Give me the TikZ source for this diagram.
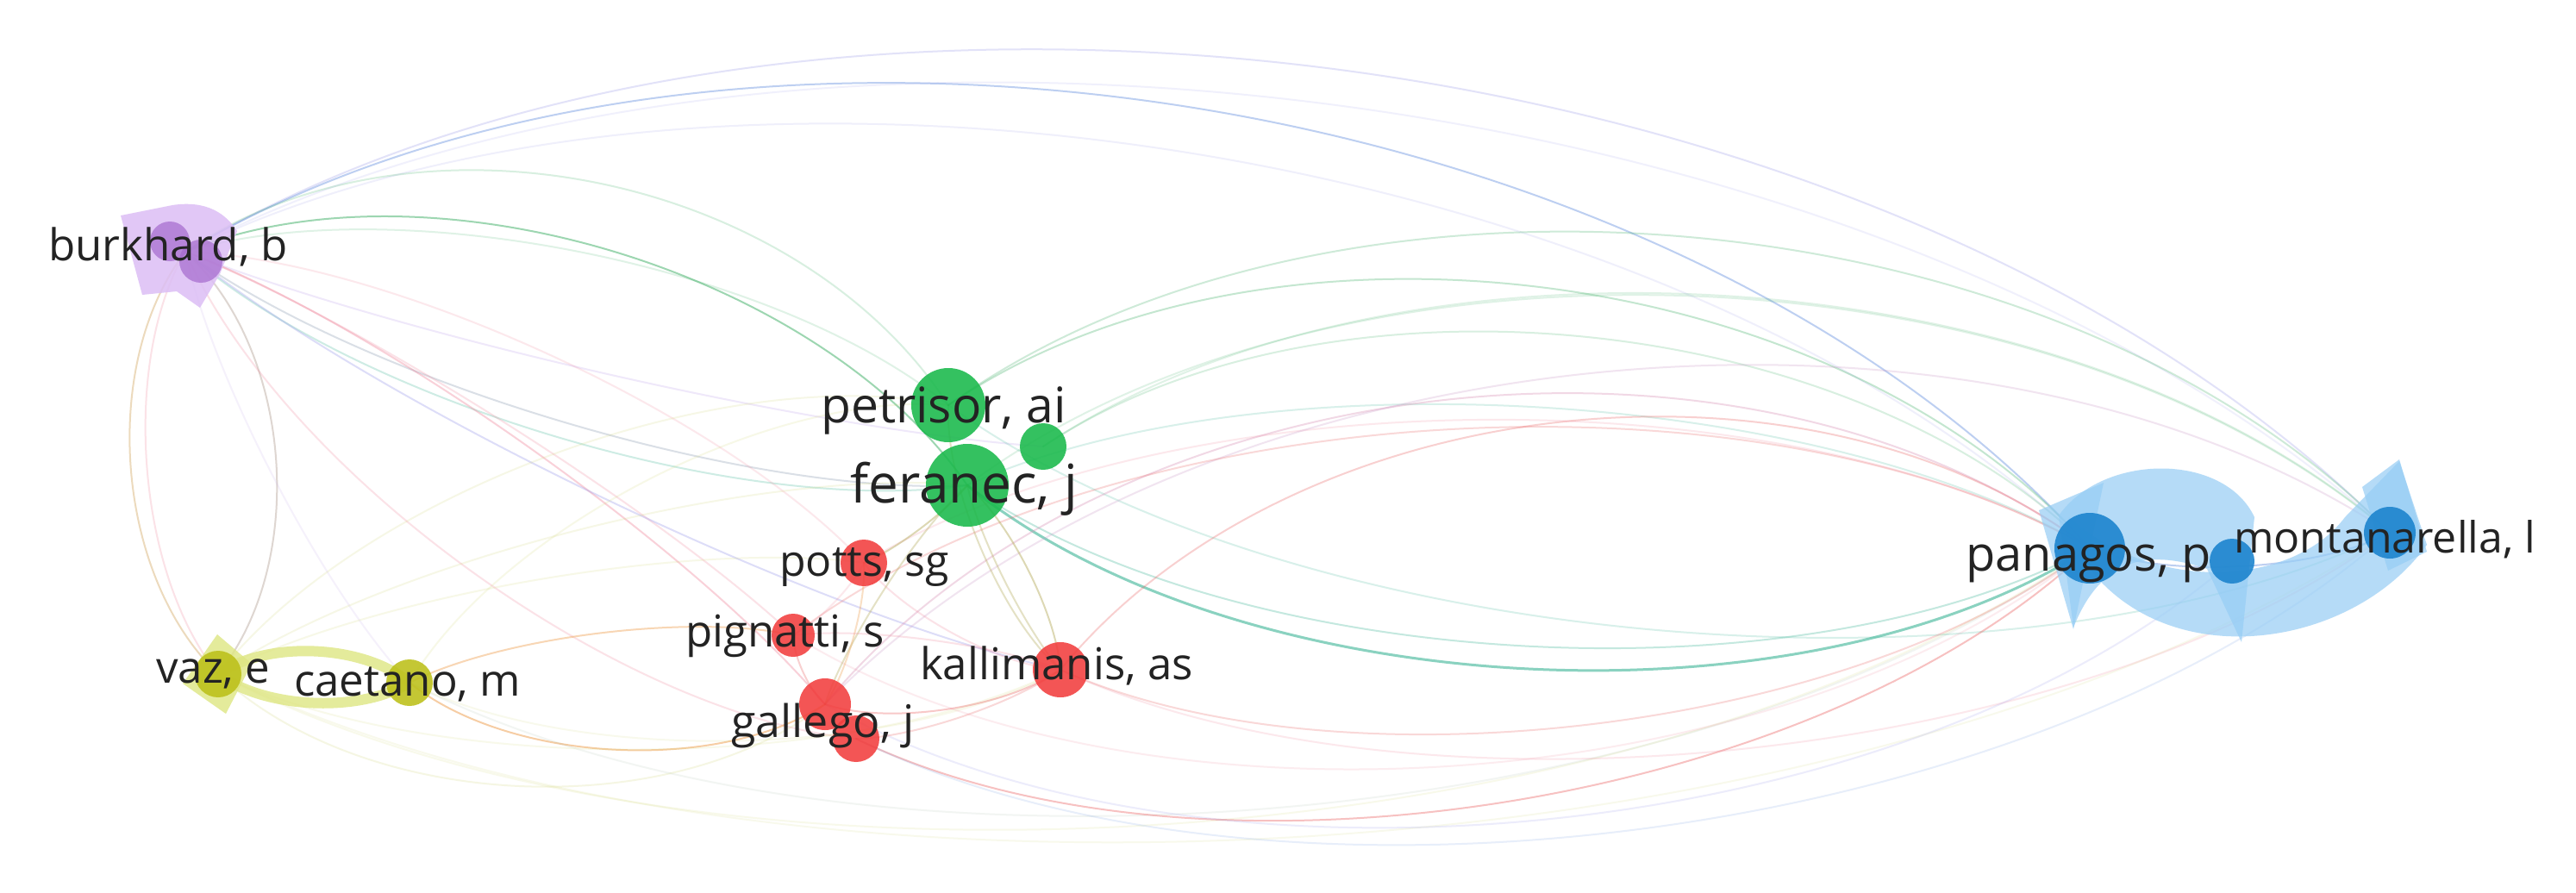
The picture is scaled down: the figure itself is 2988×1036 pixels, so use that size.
\documentclass[tikz,border=0pt]{standalone}
\usepackage{fontspec}
\setmainfont{Open Sans}
\usetikzlibrary{calc}
\definecolor{cPurp}{RGB}{175,140,230}
\definecolor{cLav}{RGB}{160,160,235}
\definecolor{cBlueE}{RGB}{110,150,225}
\definecolor{cGreenE}{RGB}{60,175,100}
\definecolor{cTeal}{RGB}{60,180,150}
\definecolor{cPink}{RGB}{240,140,160}
\definecolor{cRedE}{RGB}{235,100,100}
\definecolor{cOrange}{RGB}{240,165,90}
\definecolor{cYelE}{RGB}{205,210,100}
\definecolor{cOlive}{RGB}{180,170,90}
\definecolor{cGray}{RGB}{150,165,185}
\definecolor{nPurp}{RGB}{165,105,205}
\definecolor{sPurp}{RGB}{220,190,245}
\definecolor{nGreen}{RGB}{25,185,75}
\definecolor{nRed}{RGB}{242,62,62}
\definecolor{nYel}{RGB}{188,192,25}
\definecolor{sYel}{RGB}{222,230,130}
\definecolor{nBlue}{RGB}{25,130,205}
\definecolor{sBlue}{RGB}{150,205,245}
\definecolor{txt}{RGB}{35,35,35}
\newcommand\arcedge[4]{\draw[#1] (#2) .. controls ($(#2)!0.25!(#3)!#4pt!90:(#3)$) and ($(#3)!0.25!(#2)!#4pt!-90:(#2)$) .. (#3);}
\tikzset{
  edge/.style={line width=2pt, line cap=round},
  loopband/.style={line width=12pt, draw=sYel, opacity=.8},
  dot/.style={circle, inner sep=0pt, minimum size=#1, opacity=.88},
  lbl/.style={anchor=base west, text=txt, inner sep=0pt}
}
\begin{document}
\begin{tikzpicture}[x=1pt,y=-1pt]
\fill[white] (0,0) rectangle (2988,1036);
\useasboundingbox (0,0) rectangle (2988,1036);
% centres
\coordinate (bur) at (215,292);
\coordinate (pet) at (1100,470);
\coordinate (fer) at (1122,563);
\coordinate (gsm) at (1210,518);
\coordinate (pot) at (1002,653);
\coordinate (pig) at (920,737);
\coordinate (kal) at (1230,777);
\coordinate (gal) at (957,817);
\coordinate (gaa) at (993,857);
\coordinate (vaz) at (253,782);
\coordinate (cae) at (475,792);
\coordinate (pan) at (2424,636);
\coordinate (pmid) at (2589,651);
\coordinate (mon) at (2772,618);
% edges from burkhard
\arcedge{edge, draw=cLav, opacity=.3}{bur}{mon}{505}
\arcedge{edge, draw=cLav, opacity=.15}{bur}{mon}{450}
\arcedge{edge, draw=cBlueE, opacity=.45}{bur}{pan}{460}
\arcedge{edge, draw=cLav, opacity=.16}{bur}{pan}{390}
\arcedge{edge, draw=cGreenE, opacity=.5}{bur}{fer}{190}
\arcedge{edge, draw=cGreenE, opacity=.2}{bur}{pet}{230}
\arcedge{edge, draw=cGreenE, opacity=.16}{bur}{pet}{120}
\arcedge{edge, draw=cGray, opacity=.35}{bur}{fer}{-85}
\arcedge{edge, draw=cTeal, opacity=.25}{bur}{fer}{-110}
\arcedge{edge, draw=cPurp, opacity=.2}{bur}{gsm}{-40}
\arcedge{edge, draw=cYelE!60!cPink, opacity=.5}{bur}{vaz}{-110}
\arcedge{edge, draw=cPurp!50!cYelE, opacity=.5}{bur}{vaz}{115}
\arcedge{edge, draw=cPink, opacity=.25}{bur}{vaz}{-85}
\arcedge{edge, draw=cPink, opacity=.4}{bur}{gal}{60}
\arcedge{edge, draw=cPink, opacity=.25}{bur}{pig}{40}
\arcedge{edge, draw=cPink, opacity=.2}{bur}{pot}{90}
\arcedge{edge, draw=cLav, opacity=.35}{bur}{kal}{-65}
\arcedge{edge, draw=cPink, opacity=.25}{bur}{gaa}{-140}
\arcedge{edge, draw=cPurp, opacity=.12}{bur}{cae}{-40}
% vaz / caetano
\arcedge{edge, draw=cOrange, opacity=.55}{cae}{gal}{-87}
\arcedge{edge, draw=cOrange, opacity=.45}{cae}{pig}{40}
\arcedge{edge, draw=cYelE, opacity=.18}{vaz}{gal}{-150}
\arcedge{edge, draw=cYelE, opacity=.16}{vaz}{pet}{140}
\arcedge{edge, draw=cYelE, opacity=.16}{vaz}{fer}{80}
\arcedge{edge, draw=cYelE, opacity=.15}{cae}{pet}{110}
\arcedge{edge, draw=cYelE, opacity=.15}{vaz}{pot}{60}
\arcedge{edge, draw=cYelE, opacity=.13}{vaz}{pan}{-330}
\arcedge{edge, draw=cYelE, opacity=.12}{vaz}{mon}{-360}
\arcedge{edge, draw=cYelE!50!cBlueE, opacity=.13}{cae}{pan}{-300}
\arcedge{edge, draw=cYelE, opacity=.13}{vaz}{kal}{-120}
\arcedge{edge, draw=cYelE, opacity=.12}{cae}{kal}{-100}
% green to blue
\arcedge{edge, draw=cTeal, opacity=.6, line width=3pt}{fer}{pan}{-235}
\arcedge{edge, draw=cTeal, opacity=.3}{fer}{pan}{-200}
\arcedge{edge, draw=cTeal, opacity=.2}{pet}{mon}{-250}
\arcedge{edge, draw=cGreenE, opacity=.3}{pet}{pan}{295}
\arcedge{edge, draw=cGreenE, opacity=.25}{pet}{mon}{360}
\arcedge{edge, draw=cGreenE, opacity=.16}{fer}{mon}{330}
\arcedge{edge, draw=cGreenE, opacity=.2}{gsm}{pan}{250}
\arcedge{edge, draw=cTeal, opacity=.2}{fer}{pan}{170}
\arcedge{edge, draw=cGreenE, opacity=.16}{gsm}{mon}{300}
% red to blue
\arcedge{edge, draw=cPink!70!cLav, opacity=.35}{gal}{pan}{350}
\arcedge{edge, draw=cRedE, opacity=.3}{kal}{pan}{290}
\arcedge{edge, draw=cPink, opacity=.2}{pot}{pan}{210}
\arcedge{edge, draw=cPink!50!cLav, opacity=.25}{gal}{mon}{380}
\arcedge{edge, draw=cRedE, opacity=.4}{gaa}{pan}{-250}
\arcedge{edge, draw=cRedE, opacity=.25}{kal}{pan}{-180}
\arcedge{edge, draw=cPink, opacity=.2}{kal}{mon}{-230}
\arcedge{edge, draw=cLav, opacity=.2}{gal}{pmid}{-290}
\arcedge{edge, draw=cPink, opacity=.16}{pig}{pan}{-270}
\arcedge{edge, draw=cBlueE, opacity=.16}{gaa}{mon}{-300}
\arcedge{edge, draw=cRedE, opacity=.25}{pig}{pan}{250}
% internal
\arcedge{edge, draw=cOlive, opacity=.45}{fer}{kal}{25}
\arcedge{edge, draw=cOlive, opacity=.35}{fer}{kal}{-15}
\arcedge{edge, draw=cOlive, opacity=.45}{fer}{pot}{10}
\arcedge{edge, draw=cOlive, opacity=.35}{fer}{gal}{-20}
\arcedge{edge, draw=cOrange, opacity=.35}{pot}{gal}{15}
\arcedge{edge, draw=cRedE, opacity=.3}{pig}{gal}{-10}
\arcedge{edge, draw=cRedE, opacity=.35}{gal}{kal}{-35}
\arcedge{edge, draw=cRedE, opacity=.25}{gaa}{kal}{-20}
\arcedge{edge, draw=cPink, opacity=.25}{pot}{kal}{-30}
\arcedge{edge, draw=cPink, opacity=.25}{pig}{kal}{20}
\arcedge{edge, draw=cOlive, opacity=.35}{pet}{kal}{-40}
\arcedge{edge, draw=cPink, opacity=.2}{pot}{pig}{10}
\arcedge{edge, draw=cBlueE, opacity=.45}{pan}{mon}{-40}
% thick vaz-caetano loop
\arcedge{loopband}{vaz}{cae}{42}
\arcedge{loopband}{vaz}{cae}{-38}
% link shapes
\fill[sPurp, opacity=.85] (140,250) -- (200,238) .. controls (240,232) and (262,248) .. (275,268) -- (255,318) -- (232,357) -- (205,338) -- (165,342) -- cycle;
\fill[sYel, opacity=.8] (252,736) -- (292,770) -- (262,828) -- (212,793) -- cycle;
\fill[sBlue, opacity=.7] (2395,610) .. controls (2470,790) and (2720,765) .. (2815,632) -- (2783,535) -- (2720,600) .. controls (2660,680) and (2500,690) .. (2400,600) -- cycle;
\fill[sBlue, opacity=.7] (2388,598) .. controls (2440,525) and (2580,525) .. (2615,600) -- (2600,745) -- (2560,660) .. controls (2500,640) and (2440,640) .. (2405,728) -- cycle;
\fill[sBlue, opacity=.7] (2365,592) -- (2440,560) -- (2405,730) -- cycle;
\fill[sBlue, opacity=.7] (2740,565) -- (2783,533) -- (2815,640) -- (2770,662) -- cycle;
% circles
\node[dot=46pt, fill=nPurp, opacity=.7] (nbur1) at (197,280) {};
\node[dot=50pt, fill=nPurp, opacity=.7] (nbur2) at (233,303) {};
\node[dot=86pt, fill=nGreen] (npet) at (pet) {};
\node[dot=96pt, fill=nGreen] (nfer) at (fer) {};
\node[dot=54pt, fill=nGreen] (ngsm) at (gsm) {};
\node[dot=54pt, fill=nRed] (npot) at (pot) {};
\node[dot=50pt, fill=nRed] (npig) at (pig) {};
\node[dot=64pt, fill=nRed] (nkal) at (kal) {};
\node[dot=60pt, fill=nRed] (ngal) at (gal) {};
\node[dot=54pt, fill=nRed] (ngaa) at (gaa) {};
\node[dot=54pt, fill=nYel] (nvaz) at (vaz) {};
\node[dot=54pt, fill=nYel] (ncae) at (cae) {};
\node[dot=82pt, fill=nBlue] (npan) at (pan) {};
\node[dot=52pt, fill=nBlue] (npmid) at (pmid) {};
\node[dot=60pt, fill=nBlue] (nmon) at (mon) {};
% labels
\node[lbl, font=\fontsize{51}{51}\selectfont] (lbur) at (56,302) {burkhard, b};
\node[lbl, font=\fontsize{57}{57}\selectfont] (lpet) at (952,490) {petrisor, ai};
\node[lbl, font=\fontsize{62}{62}\selectfont] (lfer) at (986,583) {feranec, j};
\node[lbl, font=\fontsize{50}{50}\selectfont] (lpot) at (904,668) {potts, sg};
\node[lbl, font=\fontsize{51}{51}\selectfont] (lpig) at (795,750) {pignatti, s};
\node[lbl, font=\fontsize{51}{51}\selectfont] (lkal) at (1067,788) {kallimanis, as};
\node[lbl, font=\fontsize{52}{52}\selectfont] (lgal) at (848,855) {gallego, j};
\node[lbl, font=\fontsize{51}{51}\selectfont] (lvaz) at (181,792) {vaz, e};
\node[lbl, font=\fontsize{51}{51}\selectfont] (lcae) at (341,807) {caetano, m};
\node[lbl, font=\fontsize{56}{56}\selectfont] (lpan) at (2280,662) {panagos, p};
\node[lbl, font=\fontsize{50}{50}\selectfont] (lmon) at (2591,641) {montanarella, l};
\end{tikzpicture}
\end{document}
